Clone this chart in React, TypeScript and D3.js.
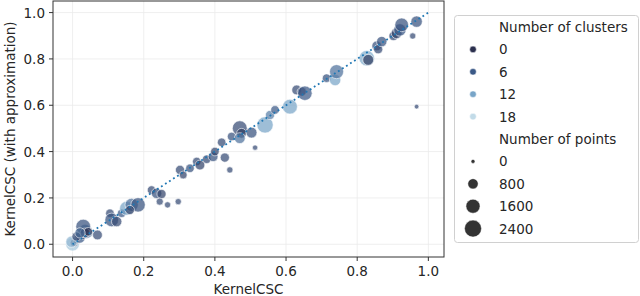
import { useEffect, useRef } from 'react'
import * as d3 from 'd3'

// KernelCSC exact vs. with approximation
const xs = [
  0.0, 0.004, 0.01, 0.02, 0.03, 0.04, 0.035, -0.003, 0.011, 0.030, 0.035, 0.044, 0.021, 0.070,
  0.105, 0.110, 0.124, 0.138, 0.152, 0.166, 0.184, 0.161,
  0.222, 0.236, 0.250, 0.245, 0.267, 0.297,
  0.302, 0.311, 0.330, 0.349, 0.358, 0.377, 0.395, 0.400, 0.419, 0.428, 0.442,
  0.447, 0.470, 0.475, 0.470, 0.503, 0.513, 0.541, 0.555, 0.569, 0.611,
  0.630, 0.644, 0.653, 0.714, 0.738, 0.742, 0.827, 0.831,
  0.855, 0.859, 0.869, 0.902, 0.911, 0.920, 0.925, 0.956, 0.967, 0.967,
]
const ys = [
  0.0, 0.006, 0.014, 0.028, 0.040, 0.052, 0.062, 0.011, 0.033, 0.076, 0.049, 0.054, 0.049, 0.040,
  0.134, 0.105, 0.098, 0.134, 0.155, 0.170, 0.170, 0.148,
  0.234, 0.220, 0.217, 0.184, 0.170, 0.184,
  0.321, 0.299, 0.328, 0.357, 0.342, 0.367, 0.378, 0.400, 0.440, 0.374, 0.321,
  0.465, 0.501, 0.479, 0.458, 0.482, 0.417, 0.515, 0.558, 0.580, 0.594,
  0.666, 0.659, 0.652, 0.717, 0.709, 0.745, 0.803, 0.796,
  0.856, 0.842, 0.875, 0.899, 0.911, 0.925, 0.947, 0.899, 0.961, 0.594,
]
const clusters = [
  16, 3, 1, 6, 2, 8, 10, 14, 4, 5, 2, 1, 7, 4,
  4, 5, 4, 6, 12, 8, 5, 3,
  4, 5, 3, 4, 4, 4,
  4, 3, 5, 4, 3, 4, 5, 3, 4, 4, 4,
  5, 4, 2, 8, 5, 4, 12, 9, 6, 12,
  4, 3, 6, 5, 12, 8, 13, 2,
  5, 4, 5, 4, 3, 6, 5, 4, 5, 4,
]
const npoints = [
  1500, 400, 200, 900, 500, 1200, 1000, 1000, 600, 1800, 700, 500, 800, 700,
  500, 1500, 800, 500, 1600, 1400, 1700, 600,
  500, 800, 600, 300, 200, 200,
  600, 400, 500, 500, 700, 500, 700, 500, 500, 600, 200,
  500, 1800, 700, 900, 900, 100, 2200, 600, 500, 1800,
  700, 600, 1700, 500, 1000, 1600, 2000, 900,
  700, 600, 800, 600, 900, 1200, 1500, 200, 1000, 50,
]

const xTicks = [0.0, 0.2, 0.4, 0.6, 0.8, 1.0]
const yTicks = [0.0, 0.2, 0.4, 0.6, 0.8, 1.0]
const clusterLegend = [0, 6, 12, 18]
const pointsLegend = [0, 800, 1600, 2400]

export default function App() {
  const svgRef = useRef<SVGSVGElement>(null)

  useEffect(() => {
    if (!svgRef.current) return
    const width = 640
    const height = 296
    const font = 'DejaVu Sans, sans-serif'

    d3.select(svgRef.current).selectAll('*').remove()
    const svg = d3.select(svgRef.current)
      .attr('width', width)
      .attr('height', height)

    const left = 53, right = 444, top = 1, bottom = 257

    const x = d3.scaleLinear().domain([-0.055, 1.044]).range([left, right])
    const y = d3.scaleLinear().domain([-0.055, 1.05]).range([bottom, top])

    const color = d3.scaleLinear<string>()
      .domain([0, 6, 12, 18])
      .range(['#2b2f4e', '#3b5987', '#78a5c8', '#c2dbe8'])
      .clamp(true)
    const area = d3.scaleLinear().domain([0, 2400]).range([4, 72])
    const radius = (n: number) => Math.sqrt(area(n))

    // grid
    const g = svg.append('g')
    xTicks.forEach(t => {
      g.append('line')
        .attr('x1', x(t)).attr('x2', x(t))
        .attr('y1', top).attr('y2', bottom)
        .attr('stroke', '#ebebeb').attr('stroke-width', 0.8)
    })
    yTicks.forEach(t => {
      g.append('line')
        .attr('x1', left).attr('x2', right)
        .attr('y1', y(t)).attr('y2', y(t))
        .attr('stroke', '#ebebeb').attr('stroke-width', 0.8)
    })

    // points
    const idx = d3.range(xs.length)
    g.selectAll('circle.pt')
      .data(idx)
      .join('circle')
      .attr('class', 'pt')
      .attr('cx', i => x(xs[i]))
      .attr('cy', i => y(ys[i]))
      .attr('r', i => radius(npoints[i]))
      .attr('fill', i => color(clusters[i]))
      .attr('fill-opacity', 0.72)
      .attr('stroke', '#ffffff')
      .attr('stroke-width', 0.6)

    // y = x reference line
    g.append('line')
      .attr('x1', x(0)).attr('y1', y(0))
      .attr('x2', x(1)).attr('y2', y(1))
      .attr('stroke', '#1f77b4')
      .attr('stroke-width', 1.8)
      .attr('stroke-dasharray', '1.8,3')

    // frame
    svg.append('rect')
      .attr('x', left).attr('y', top)
      .attr('width', right - left).attr('height', bottom - top)
      .attr('fill', 'none').attr('stroke', '#333').attr('stroke-width', 1)

    // ticks
    xTicks.forEach(t => {
      svg.append('line')
        .attr('x1', x(t)).attr('x2', x(t))
        .attr('y1', bottom).attr('y2', bottom + 4)
        .attr('stroke', '#333')
      svg.append('text')
        .text(t.toFixed(1))
        .attr('x', x(t)).attr('y', 276)
        .attr('text-anchor', 'middle')
        .attr('font-family', font).attr('font-size', 13.5).attr('fill', '#262626')
    })
    yTicks.forEach(t => {
      svg.append('line')
        .attr('x1', left - 4).attr('x2', left)
        .attr('y1', y(t)).attr('y2', y(t))
        .attr('stroke', '#333')
      svg.append('text')
        .text(t.toFixed(1))
        .attr('x', 45).attr('y', y(t) + 5)
        .attr('text-anchor', 'end')
        .attr('font-family', font).attr('font-size', 13.5).attr('fill', '#262626')
    })

    // axis labels
    svg.append('text')
      .text('KernelCSC')
      .attr('x', (left + right) / 2).attr('y', 294)
      .attr('text-anchor', 'middle')
      .attr('font-family', font).attr('font-size', 13.5).attr('fill', '#262626')
    svg.append('text')
      .text('KernelCSC (with approximation)')
      .attr('transform', `translate(15,${(top + bottom) / 2}) rotate(-90)`)
      .attr('text-anchor', 'middle')
      .attr('font-family', font).attr('font-size', 13.5).attr('fill', '#262626')

    // legend
    const lg = svg.append('g')
    lg.append('rect')
      .attr('x', 454.5).attr('y', 15.5)
      .attr('width', 184).attr('height', 227)
      .attr('rx', 3)
      .attr('fill', '#fff').attr('stroke', '#d0d0d0')
    const rowY = (k: number) => 27 + k * 22.4
    const label = (s: string, k: number) => {
      lg.append('text')
        .text(s)
        .attr('x', 499).attr('y', rowY(k) + 5)
        .attr('font-family', font).attr('font-size', 13.5).attr('fill', '#262626')
    }
    label('Number of clusters', 0)
    clusterLegend.forEach((c, i) => {
      lg.append('circle')
        .attr('cx', 473).attr('cy', rowY(i + 1))
        .attr('r', 3.3)
        .attr('fill', color(c))
        .attr('stroke', '#fff').attr('stroke-width', 0.5)
      label(String(c), i + 1)
    })
    label('Number of points', 5)
    pointsLegend.forEach((n, i) => {
      lg.append('circle')
        .attr('cx', 473).attr('cy', rowY(i + 6))
        .attr('r', radius(n))
        .attr('fill', '#333')
        .attr('stroke', '#fff').attr('stroke-width', 0.5)
      label(String(n), i + 6)
    })
  }, [])

  return (
    <div style={{ position: 'absolute', left: 0, top: 0 }}>
      <svg ref={svgRef}></svg>
    </div>
  )
}
